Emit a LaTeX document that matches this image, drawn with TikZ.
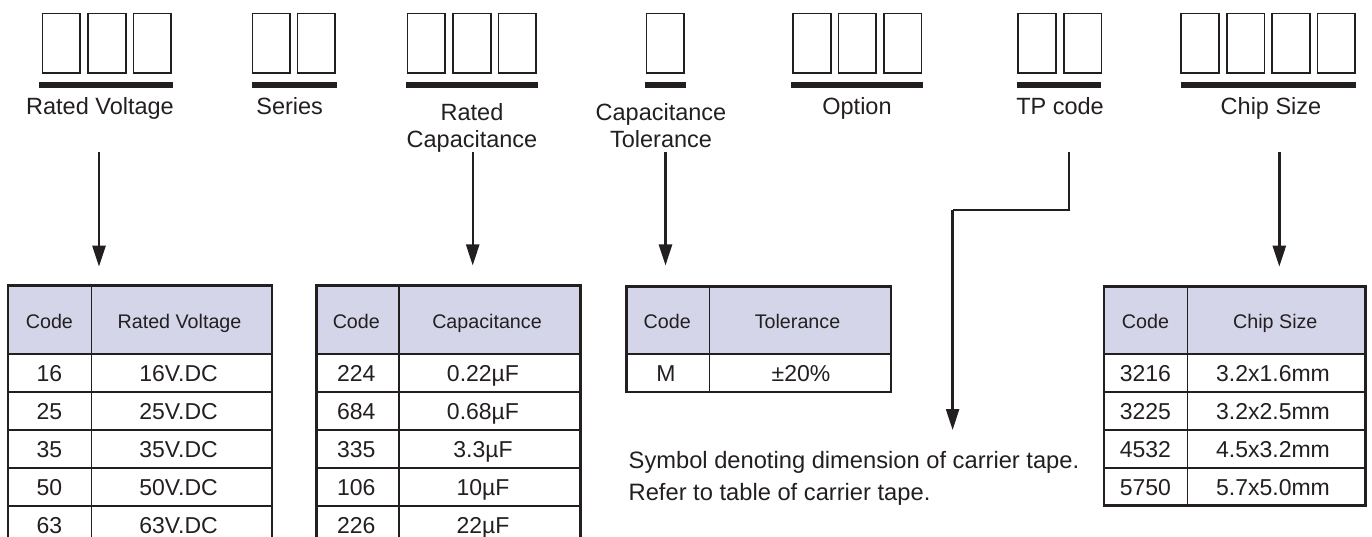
\documentclass[tikz,border=0pt]{standalone}
\usepackage{fontspec}
\setmainfont{Liberation Sans}
\usetikzlibrary{arrows.meta}
\definecolor{ink}{HTML}{231F20}
\definecolor{hdr}{HTML}{D5D5EA}
\tikzset{
  digit/.style={draw=ink, line width=1.7pt, minimum width=37.6pt, minimum height=59.6pt, inner sep=0pt, outer sep=0pt},
  bar/.style={fill=ink, minimum height=6.6pt, inner sep=0pt, outer sep=0pt},
  lbl/.style={font=\fontsize{23.5}{27}\selectfont, text=ink, inner sep=0pt, anchor=base},
  note/.style={font=\fontsize{23.7}{27}\selectfont, text=ink, inner sep=0pt, anchor=base west},
  arr/.style={draw=ink, line width=2.4pt, -{Triangle[width=13pt,length=21pt]}},
  conn/.style={draw=ink, line width=2.4pt},
  tline/.style={draw=ink, line width=1.4pt},
  tframe/.style={draw=ink, line width=2.7pt},
  hd/.style={font=\fontsize{19.7}{22}\selectfont, text=ink, inner sep=0pt, anchor=base},
  dt/.style={font=\fontsize{23}{26}\selectfont, text=ink, inner sep=0pt, anchor=base}
}
\begin{document}
\begin{tikzpicture}[x=1pt,y=-1pt]
\useasboundingbox (0,0) rectangle (1372,537);
\clip (0,0) rectangle (1372,537);

% ---------- code boxes ----------
\foreach \x [count=\i] in {61.35,106.95,152.35} \node[digit] (rv\i) at (\x,43.35) {};
\foreach \x [count=\i] in {271.35,316.35} \node[digit] (se\i) at (\x,43.35) {};
\foreach \x [count=\i] in {426.35,471.95,517.35} \node[digit] (rc\i) at (\x,43.35) {};
\node[digit] (ct1) at (665.35,43.35) {};
\foreach \x [count=\i] in {811.95,857.35,902.65} \node[digit] (op\i) at (\x,43.35) {};
\foreach \x [count=\i] in {1036.95,1082.65} \node[digit] (tp\i) at (\x,43.35) {};
\foreach \x [count=\i] in {1199.95,1245.65,1290.95,1336.35} \node[digit] (cs\i) at (\x,43.35) {};

% ---------- bars ----------
\node[bar, minimum width=133.7pt] (rvbar) at (106.15,85) {};
\node[bar, minimum width=85pt] (sebar) at (294.2,85) {};
\node[bar, minimum width=131.7pt] (rcbar) at (471.85,85) {};
\node[bar, minimum width=41.3pt] (ctbar) at (665.65,85) {};
\node[bar, minimum width=131.7pt] (opbar) at (857.15,85) {};
\node[bar, minimum width=83.4pt] (tpbar) at (1059,85) {};
\node[bar, minimum width=175pt] (csbar) at (1268.5,85) {};

% ---------- labels ----------
\node[lbl] (rvlab) at (100,114.5) {Rated Voltage};
\node[lbl] (selab) at (289.7,114.5) {Series};
\node[lbl] (rclab1) at (472,120.8) {Rated};
\node[lbl] (rclab2) at (472,148) {Capacitance};
\node[lbl] (ctlab1) at (661,121) {Capacitance};
\node[lbl] (ctlab2) at (661,147.5) {Tolerance};
\node[lbl] (oplab) at (857,114.5) {Option};
\node[lbl] (tplab) at (1060,114.5) {TP code};
\node[lbl] (cslab) at (1271,114.5) {Chip Size};

% ---------- arrows ----------
\coordinate (rvs) at (99,152);     \coordinate (rve) at (99,266.7);
\coordinate (rcs) at (472.7,152);  \coordinate (rce) at (472.7,265.5);
\coordinate (cts) at (665.5,152);  \coordinate (cte) at (665.5,265.5);
\coordinate (css) at (1279.3,152); \coordinate (cse) at (1279.3,266.7);
\coordinate (tps) at (1068.7,152); \coordinate (tpk1) at (1068.7,210);
\coordinate (tpk2) at (952.6,210); \coordinate (tpe) at (952.6,430);
\draw[arr] (rvs) -- (rve);
\draw[arr] (rcs) -- (rce);
\draw[arr] (cts) -- (cte);
\draw[arr] (css) -- (cse);
\draw[conn] (tps) -- (tpk1) -- (tpk2);
\draw[arr] (tpk2) -- (tpe);

% ---------- Rated Voltage table ----------
\fill[hdr] (8,285.6) rectangle (272,354);
\foreach \y in {354,392,430,468,506} \draw[tline] (8,\y) -- (272,\y);
\draw[tline] (91.3,285.6) -- (91.3,545);
\draw[tframe] (8,545) -- (8,285.6) -- (272,285.6) -- (272,545);
\node[hd] (rvh1) at (49.4,328) {Code};
\node[hd] (rvh2) at (179.5,328) {Rated Voltage};
\foreach \c/\v [count=\i] in {16/16V.DC,25/25V.DC,35/35V.DC,50/50V.DC,63/63V.DC} {
  \node[dt] (rvc\i) at (49.4,381.5+38*\i-38) {\c};
  \node[dt] (rvv\i) at (178.5,381.5+38*\i-38) {\v};
}

% ---------- Capacitance table ----------
\fill[hdr] (316.3,285.6) rectangle (580.4,354);
\foreach \y in {354,392,430,468,506} \draw[tline] (316.3,\y) -- (580.4,\y);
\draw[tline] (399,285.6) -- (399,545);
\draw[tframe] (316.3,545) -- (316.3,285.6) -- (580.4,285.6) -- (580.4,545);
\node[hd] (rch1) at (356.3,328) {Code};
\node[hd] (rch2) at (487,328) {Capacitance};
\foreach \c/\v [count=\i] in {224/0.22µF,684/0.68µF,335/3.3µF,106/10µF,226/22µF} {
  \node[dt] (rcc\i) at (356.3,381.5+38*\i-38) {\c};
  \node[dt] (rcv\i) at (483,381.5+38*\i-38) {\v};
}

% ---------- Tolerance table ----------
\fill[hdr] (626.3,286.3) rectangle (891,354);
\draw[tline] (626.3,354) -- (891,354);
\draw[tline] (709.3,286.3) -- (709.3,392);
\draw[tframe] (626.3,286.3) rectangle (891,392);
\node[hd] (cth1) at (667.2,328) {Code};
\node[hd] (cth2) at (797.5,328) {Tolerance};
\node[dt] (ctc1) at (666,381.5) {M};
\node[dt] (ctv1) at (801,381.5) {±20\%};

% ---------- Chip Size table ----------
\fill[hdr] (1104,286.3) rectangle (1365.7,354);
\foreach \y in {354,392,430,468} \draw[tline] (1104,\y) -- (1365.7,\y);
\draw[tline] (1187.3,286.3) -- (1187.3,505.4);
\draw[tframe] (1104,286.3) rectangle (1365.7,505.4);
\node[hd] (csh1) at (1145.5,328) {Code};
\node[hd] (csh2) at (1275.3,328) {Chip Size};
\foreach \c/\v [count=\i] in {3216/3.2x1.6mm,3225/3.2x2.5mm,4532/4.5x3.2mm,5750/5.7x5.0mm} {
  \node[dt] (csc\i) at (1145.4,381.5+38*\i-38) {\c};
  \node[dt] (csv\i) at (1273,381.5+38*\i-38) {\v};
}

% ---------- carrier tape note ----------
\node[note] (tpn1) at (628.5,468.5) {Symbol denoting dimension of carrier tape.};
\node[note] (tpn2) at (628.5,500.5) {Refer to table of carrier tape.};
\end{tikzpicture}
\end{document}
